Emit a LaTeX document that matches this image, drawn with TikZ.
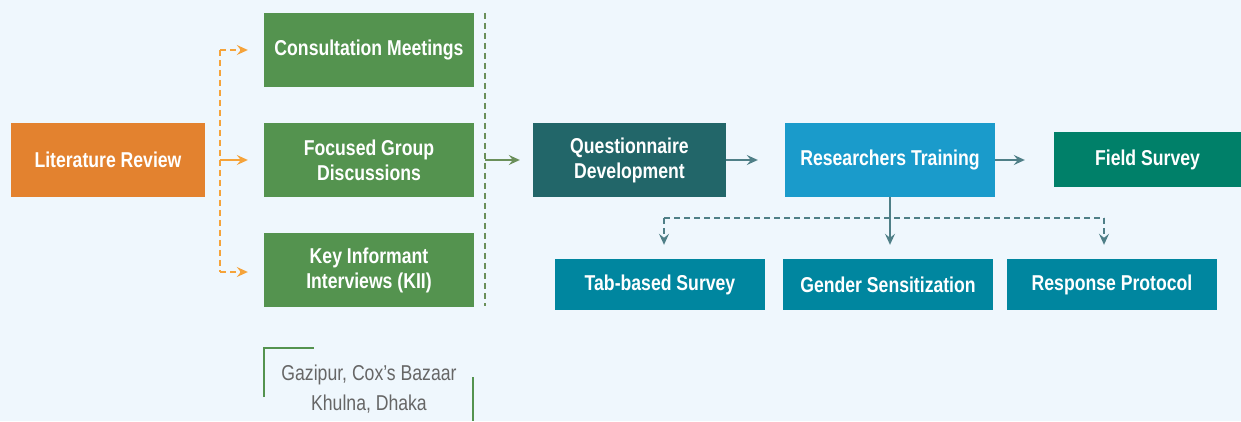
\documentclass[tikz,border=0pt]{standalone}
\usepackage{fontspec}
\setmainfont[FakeStretch=0.82]{Liberation Sans}
\usetikzlibrary{arrows.meta,calc}
\definecolor{bg}{HTML}{EFF7FD}
\definecolor{orng}{HTML}{E3822F}
\definecolor{orngline}{HTML}{F5A33A}
\definecolor{grn}{HTML}{54934F}
\definecolor{grnline}{HTML}{6A8F5A}
\definecolor{dteal}{HTML}{226669}
\definecolor{blu}{HTML}{1A9BCB}
\definecolor{fld}{HTML}{008069}
\definecolor{teal}{HTML}{00869F}
\definecolor{tline}{HTML}{4F7F87}

\begin{document}
\begin{tikzpicture}[x=1pt,y=-1pt,
  box/.style={rectangle,inner sep=0pt,minimum width=210pt,minimum height=74pt,
    text=white,align=center,font=\bfseries\fontsize{21.5}{25}\selectfont},
  tip/.style={-{Stealth[length=11pt,width=10pt,inset=4pt]},line width=1.3pt},
  dsh/.style={dash pattern=on 6pt off 4pt}]
  \fill[bg] (0,0) rectangle (1241,421);

  \node[box,fill=orng,minimum width=194pt] (lit) at (108,160) {Literature Review};
  \node[box,fill=grn] (cm) at (369,50) {Consultation Meetings};
  \node[box,fill=grn] (fgd) at (369,160) {Focused Group\\Discussions};
  \node[box,fill=grn] (kii) at (369,270) {Key Informant\\Interviews (KII)};
  \node[box,fill=dteal,minimum width=193pt] (qd) at (629.5,160) {Questionnaire\\Development};
  \node[box,fill=blu] (rt) at (890,160) {Researchers Training};
  \node[box,fill=fld,minimum width=187pt,minimum height=55pt] (fs) at (1147.5,159.5) {Field Survey};
  \node[box,fill=teal,minimum height=51pt] (tab) at (660,284.5) {Tab-based Survey};
  \node[box,fill=teal,minimum height=51pt] (gen) at (888,284.5) {Gender Sensitization};
  \node[box,fill=teal,minimum height=51pt] (resp) at (1112,284.5) {Response Protocol};

  % orange branch
  \coordinate (o1) at (220,50);
  \coordinate (o2) at (220,160);
  \coordinate (o3) at (220,272);
  \draw[orngline,line width=1.3pt,dsh] (o1) -- (o3);
  \draw[orngline,tip,dsh,shorten >=16pt] (o1) -- (cm.west);
  \draw[orngline,tip,shorten >=16pt] (o2) -- (fgd.west);
  \draw[orngline,tip,dsh,shorten >=16pt] (o3) -- (kii.west |- o3);

  % green collector
  \coordinate (g1) at (485,13);
  \coordinate (g2) at (485,306);
  \coordinate (g3) at (485,160);
  \draw[grnline,line width=1.3pt,dsh] (g1) -- (g2);
  \draw[grnline,tip,shorten >=13pt] (g3) -- (qd.west);

  \draw[tline,tip,shorten >=27pt] (qd) -- (rt);
  \draw[tline,tip,shorten >=29pt] (rt) -- (fs.west |- rt);

  % training topics
  \coordinate (d1) at (664,218);
  \coordinate (d2) at (1104,218);
  \draw[tline,line width=1.3pt,dsh] (d1) -- (d2);
  \draw[tline,tip,dsh,shorten >=14pt] (d1) -- (d1 |- tab.north);
  \draw[tline,tip,dsh,shorten >=14pt] (d2) -- (d2 |- resp.north);
  \draw[tline,tip,shorten >=14pt] (rt.south) -- (rt.south |- gen.north);

  % locations
  \node[text=black!60,align=center,font=\fontsize{21.5}{30}\selectfont] (loc) at (369,389)
    {Gazipur, Cox’s Bazaar\\Khulna, Dhaka};
  \draw[grn,line width=1.6pt] (264,397) |- (314,348);
  \draw[grn,line width=1.6pt] (473,377) -- (473,421);
\end{tikzpicture}
\end{document}
